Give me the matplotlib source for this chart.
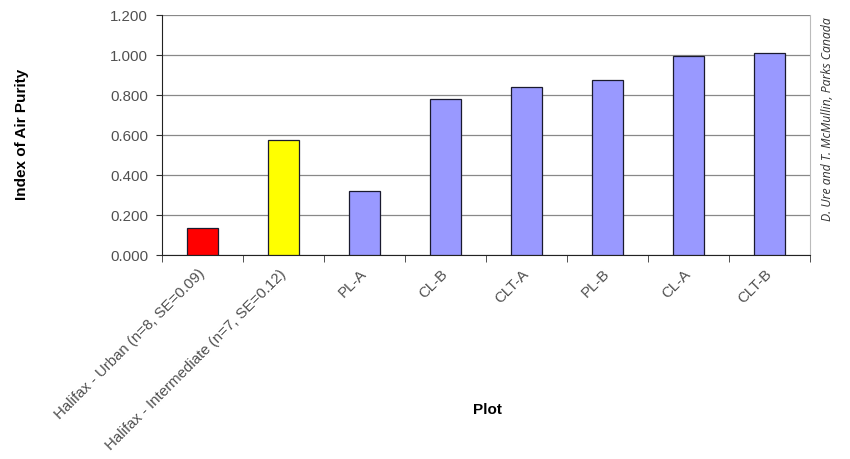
import matplotlib
matplotlib.use("Agg")
import matplotlib.pyplot as plt
import numpy as np

# Index of air purity per plot
plots = ["Halifax - Urban (n=8, SE=0.09)",
         "Halifax - Intermediate (n=7, SE=0.12)",
         "PL-A", "CL-B", "CLT-A", "PL-B", "CL-A", "CLT-B"]
iap = [0.135, 0.575, 0.320, 0.782, 0.838, 0.875, 0.993, 1.012]
bar_colors = ["#FF0000", "#FFFF00", "#9999FF", "#9999FF",
              "#9999FF", "#9999FF", "#9999FF", "#9999FF"]
yticks = [0.0, 0.2, 0.4, 0.6, 0.8, 1.0, 1.2]

plt.rcParams["font.family"] = ["Liberation Sans", "DejaVu Sans"]

fig = plt.figure(figsize=(8.5, 4.59), dpi=100)
ax = fig.add_axes([0.1906, 0.4444, 0.7623, 0.5229])

x = np.arange(len(plots))
ax.bar(x, iap, width=0.38, color=bar_colors, edgecolor="#1a1a2e",
       linewidth=0.9, zorder=3)

ax.set_xlim(-0.5, len(plots) - 0.5)
ax.set_ylim(0, 1.2)
ax.set_yticks(yticks)
ax.set_yticklabels([f"{v:.3f}" for v in yticks], color="#505050", fontsize=10.8)
ax.yaxis.grid(True, color="#888888", linewidth=0.9, zorder=0)

# category labels sit between the boundary ticks
ax.set_xticks(x)
ax.set_xticklabels(plots, rotation=45, ha="right", va="center",
                   rotation_mode="anchor", color="#505050", fontsize=10.8)
ax.tick_params(axis="x", length=0, pad=12)
ax.set_xticks(np.arange(len(plots) + 1) - 0.5, minor=True)
ax.tick_params(axis="x", which="minor", length=5, color="#333333", direction="out")
ax.tick_params(axis="y", length=4, color="#333333", direction="out", pad=6)

ax.spines["top"].set_visible(False)
ax.spines["right"].set_color("#bbbbbb")
ax.spines["left"].set_color("#222222")
ax.spines["bottom"].set_color("#222222")

fig.text(0.026, 0.708, "Index of Air Purity", rotation=90, ha="center",
         va="center", fontsize=11, fontweight="bold")
fig.text(0.573, 0.107, "Plot", ha="center", va="center",
         fontsize=11, fontweight="bold")

fig.text(0.973, 0.741, "D. Ure and T. McMullin, Parks Canada", rotation=90,
         ha="center", va="center", fontsize=8.8, style="italic",
         color="#333333", family=["Open Sans", "DejaVu Sans"])

fig.savefig("out.png", dpi=100, facecolor="white")
